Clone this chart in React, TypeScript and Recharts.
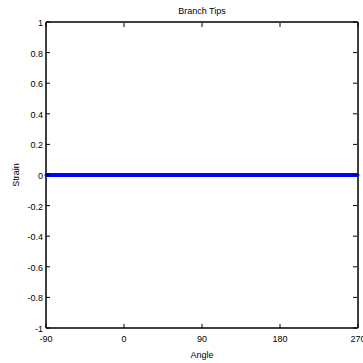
import { LineChart, Line, XAxis, YAxis } from 'recharts'

const ANGLES = [
  -90, -80, -70, -60, -50, -40, -30, -20, -10, 0, 10, 20, 30, 40, 50, 60, 70, 80, 90,
  100, 110, 120, 130, 140, 150, 160, 170, 180, 190, 200, 210, 220, 230, 240, 250, 260, 270,
]
const STRAIN = [
  0, 0, 0, 0, 0, 0, 0, 0, 0, 0, 0, 0, 0, 0, 0, 0, 0, 0, 0,
  0, 0, 0, 0, 0, 0, 0, 0, 0, 0, 0, 0, 0, 0, 0, 0, 0, 0,
]
const X_TICKS = [-90, 0, 90, 180, 270]
const Y_TICKS = [-1, -0.8, -0.6, -0.4, -0.2, 0, 0.2, 0.4, 0.6, 0.8, 1]

const data = ANGLES.map((a, i) => ({ angle: a, strain: STRAIN[i] }))

const FONT = 'Liberation Sans, Arial, sans-serif'

// ticks point inward, like a matlab box plot
const BottomTick = ({ x, y, payload }: any) => (
  <g>
    <line x1={x} x2={x} y1={y} y2={y - 4} stroke='#000' />
    <text x={x} y={y + 14} textAnchor='middle' fontSize={9} fontFamily={FONT} fill='#000'>
      {payload.value}
    </text>
  </g>
)

const TopTick = ({ x, y }: any) => (
  <line x1={x} x2={x} y1={y + 1} y2={y + 5} stroke='#000' />
)

const LeftTick = ({ x, y, payload }: any) => (
  <g>
    <line x1={x} x2={x + 4} y1={y} y2={y} stroke='#000' />
    <text x={x - 3} y={y + 4} textAnchor='end' fontSize={9} fontFamily={FONT} fill='#000'>
      {payload.value}
    </text>
  </g>
)

const RightTick = ({ x, y }: any) => (
  <line x1={x - 1} x2={x - 5} y1={y} y2={y} stroke='#000' />
)

export default function App() {
  return (
    <div style={{ position: 'absolute', left: 0, top: 0, width: 363, height: 363, background: '#fff' }}>
      <LineChart
        width={363}
        height={363}
        data={data}
        margin={{ top: 21, right: 4, bottom: 5, left: 6 }}
      >
        <text x={202} y={14} textAnchor='middle' fontSize={9} fontFamily={FONT} fill='#000'>
          Branch Tips
        </text>
        <text x={202} y={358} textAnchor='middle' fontSize={9} fontFamily={FONT} fill='#000'>
          Angle
        </text>
        <text
          x={17}
          y={175}
          textAnchor='middle'
          fontSize={9}
          fontFamily={FONT}
          fill='#000'
          transform='rotate(-90 17 175)'
          dominantBaseline='middle'
        >
          Strain
        </text>
        <XAxis
          xAxisId='b'
          dataKey='angle'
          type='number'
          domain={[-90, 270]}
          ticks={X_TICKS}
          height={30}
          tickSize={0}
          tickMargin={0}
          tickLine={false}
          tick={<BottomTick />}
          axisLine={{ stroke: '#000', strokeWidth: 1.5 }}
          interval={0}
        />
        <XAxis
          xAxisId='t'
          orientation='top'
          dataKey='angle'
          type='number'
          domain={[-90, 270]}
          ticks={X_TICKS}
          height={1}
          tickSize={0}
          tickMargin={0}
          tickLine={false}
          tick={<TopTick />}
          axisLine={{ stroke: '#000', strokeWidth: 1.5 }}
          interval={0}
        />
        <YAxis
          yAxisId='l'
          type='number'
          domain={[-1, 1]}
          ticks={Y_TICKS}
          width={40}
          tickSize={0}
          tickMargin={0}
          tickLine={false}
          tick={<LeftTick />}
          axisLine={{ stroke: '#000', strokeWidth: 1.5 }}
          interval={0}
        />
        <YAxis
          yAxisId='r'
          orientation='right'
          type='number'
          domain={[-1, 1]}
          ticks={Y_TICKS}
          width={1}
          tickSize={0}
          tickMargin={0}
          tickLine={false}
          tick={<RightTick />}
          axisLine={{ stroke: '#000', strokeWidth: 1.5 }}
          interval={0}
        />
        <Line
          xAxisId='t'
          yAxisId='r'
          type='linear'
          dataKey='strain'
          stroke='#0000ff'
          strokeWidth={4}
          dot={false}
          isAnimationActive={false}
        />
        <Line
          xAxisId='b'
          yAxisId='l'
          type='linear'
          dataKey='strain'
          stroke='#0000ff'
          strokeWidth={4}
          dot={{ r: 1.5, fill: '#0000ff', stroke: 'none' }}
          isAnimationActive={false}
        />
      </LineChart>
    </div>
  )
}
